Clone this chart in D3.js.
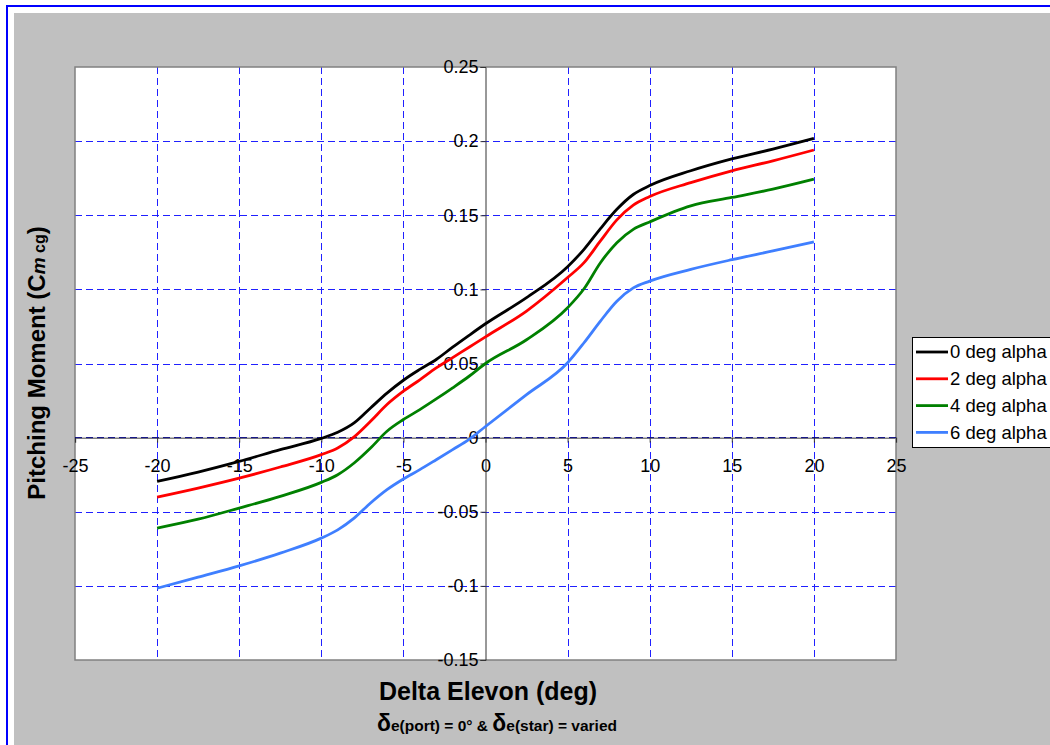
<!DOCTYPE html>
<html><head><meta charset="utf-8">
<script src="https://cdn.jsdelivr.net/npm/d3@7"></script>
<style>body{margin:0;background:#fff}svg{display:block;font-family:Arial,"Liberation Sans",sans-serif}</style>
</head><body><svg id="c" width="1050" height="745"></svg>
<script>
const deltaE = [-20,-17.5,-15,-12.5,-10,-9,-8,-7,-6,-5,-4,-3,-2,-1,0,2.5,5,6,7,8,9,10,12.5,15,17.5,20];
const alpha0 = [-0.0295,-0.0232,-0.016,-0.0081,-0.0005,0.0036,0.0099,0.020,0.030,0.0387,0.046,0.0527,0.061,0.069,0.0768,0.0944,0.1153,0.127,0.141,0.154,0.164,0.170,0.180,0.188,0.1946,0.2018];
const alpha2 = [-0.0401,-0.034,-0.0273,-0.0198,-0.0115,-0.007,0.0005,0.011,0.0223,0.0313,0.039,0.047,0.054,0.061,0.068,0.0854,0.108,0.118,0.1327,0.1469,0.1568,0.1626,0.172,0.180,0.1867,0.194];
const alpha4 = [-0.061,-0.055,-0.0475,-0.0396,-0.0302,-0.025,-0.0171,-0.007,0.0043,0.0122,0.0189,0.0261,0.0336,0.0414,0.050,0.066,0.0876,0.1004,0.118,0.1315,0.1405,0.1455,0.1563,0.162,0.1676,0.1743];
const alpha6 = [-0.1016,-0.0941,-0.0865,-0.0779,-0.0678,-0.0622,-0.0543,-0.0441,-0.0351,-0.0279,-0.0216,-0.0149,-0.0081,-0.0012,0.0075,0.029,0.0505,0.064,0.0786,0.092,0.101,0.1056,0.1135,0.120,0.1259,0.132];
const seriesNames = ["0 deg alpha","2 deg alpha","4 deg alpha","6 deg alpha"];
const seriesColors = ["#000000","#ff0000","#008000","#3f7fff"];
const xTicks = [-25,-20,-15,-10,-5,0,5,10,15,20,25];
const yTicks = [-0.15,-0.1,-0.05,0,0.05,0.1,0.15,0.2,0.25];
const yTickLabels = ["-0.15","-0.1","-0.05","0","0.05","0.1","0.15","0.2","0.25"];

const svg = d3.select("#c");
// outer frame
svg.append("rect").attr("x",7).attr("y",6).attr("width",1060).attr("height",760).attr("fill","#fff").attr("stroke","#0000ff").attr("stroke-width",2);
svg.append("rect").attr("x",14).attr("y",13).attr("width",1040).attr("height",740).attr("fill","#c0c0c0");

const L=75,R=896,T=67,B=660;
const x = d3.scaleLinear().domain([-25,25]).range([L,R]);
const y = d3.scaleLinear().domain([-0.15,0.25]).range([B,T]);
const px = v => Math.round(v)+0.5;

svg.append("rect").attr("x",L).attr("y",T).attr("width",R-L).attr("height",B-T).attr("fill","#fff");

const g = svg.append("g");
// grid
const gx = xTicks.filter(v=>v!==-25&&v!==25&&v!==0);
g.selectAll(".vg").data(gx).join("line").attr("x1",d=>px(x(d))).attr("x2",d=>px(x(d))).attr("y1",T).attr("y2",B)
 .attr("stroke","#2020ff").attr("stroke-width",1).attr("stroke-dasharray","7,4");
const gy = yTicks.filter(v=>v!==-0.15&&v!==0.25&&v!==0);
g.selectAll(".hg").data(gy).join("line").attr("y1",d=>px(y(d))).attr("y2",d=>px(y(d))).attr("x1",L).attr("x2",R)
 .attr("stroke","#2020ff").attr("stroke-width",1).attr("stroke-dasharray","7,4");

// plot border
svg.append("rect").attr("x",L).attr("y",T).attr("width",R-L).attr("height",B-T).attr("fill","none").attr("stroke","#808080").attr("stroke-width",1.5);

// axes at zero
const xAxis = d3.axisBottom(x).tickValues(xTicks).tickSize(5).tickPadding(14).tickFormat(d=>String(d));
const ax = svg.append("g").attr("transform",`translate(0,${y(0)})`).call(xAxis);
ax.attr("font-family",null);
ax.select(".domain").attr("stroke","#808080").attr("stroke-width",1.5);
ax.selectAll(".tick line").attr("stroke","#333");
ax.selectAll("text").attr("font-size",18).attr("fill","#000").attr("dy","0.35em").attr("y",28);
svg.append("line").attr("x1",L).attr("x2",R).attr("y1",y(0)).attr("y2",y(0)).attr("stroke","#000080").attr("stroke-width",1).attr("stroke-dasharray","7,4");

const yAxis = d3.axisLeft(y).tickValues(yTicks).tickSize(5).tickPadding(2).tickFormat((d,i)=>yTickLabels[i]);
const ay = svg.append("g").attr("transform",`translate(${x(0)},0)`).call(yAxis);
ay.attr("font-family",null);
ay.select(".domain").attr("stroke","#333").attr("stroke-width",1);
ay.selectAll(".tick line").attr("stroke","#333");
ay.selectAll("text").attr("font-size",18).attr("fill","#000");

// lines
const data = [alpha0,alpha2,alpha4,alpha6];
const line = d3.line().x((d,i)=>x(deltaE[i])).y(d=>y(d)).curve(d3.curveMonotoneX);
svg.selectAll(".s").data(data).join("path").attr("d",line).attr("fill","none")
 .attr("stroke",(d,i)=>seriesColors[i]).attr("stroke-width",2.8).attr("stroke-linejoin","round");

// legend
const lg = svg.append("g");
lg.append("rect").attr("x",912.5).attr("y",337.5).attr("width",150).attr("height",110).attr("fill","#fff").attr("stroke","#000").attr("stroke-width",1);
seriesNames.forEach((n,i)=>{
  const yy = 352 + i*26.8;
  lg.append("line").attr("x1",916).attr("x2",948).attr("y1",yy).attr("y2",yy).attr("stroke",seriesColors[i]).attr("stroke-width",2.8);
  lg.append("text").attr("x",950).attr("y",yy).attr("dy","0.35em").attr("font-size",18.5).text(n);
});

// titles
svg.append("text").attr("x",488).attr("y",700).attr("text-anchor","middle").attr("font-size",25).attr("font-weight","bold").text("Delta Elevon (deg)");
const st = svg.append("text").attr("x",497).attr("y",731).attr("text-anchor","middle").attr("font-size",15.5).attr("font-weight","bold");
st.append("tspan").attr("font-size",23).text("δ");
st.append("tspan").text("e(port) = 0° & ");
st.append("tspan").attr("font-size",23).text("δ");
st.append("tspan").text("e(star) = varied");

const yt = svg.append("text").attr("transform","translate(45,363) rotate(-90)").attr("text-anchor","middle").attr("font-size",24).attr("font-weight","bold");
yt.append("tspan").text("Pitching Moment (C");
yt.append("tspan").attr("font-size",19).attr("font-style","italic").text("m");
yt.append("tspan").attr("font-size",16).text(" cg");
yt.append("tspan").text(")");
</script></body></html>
